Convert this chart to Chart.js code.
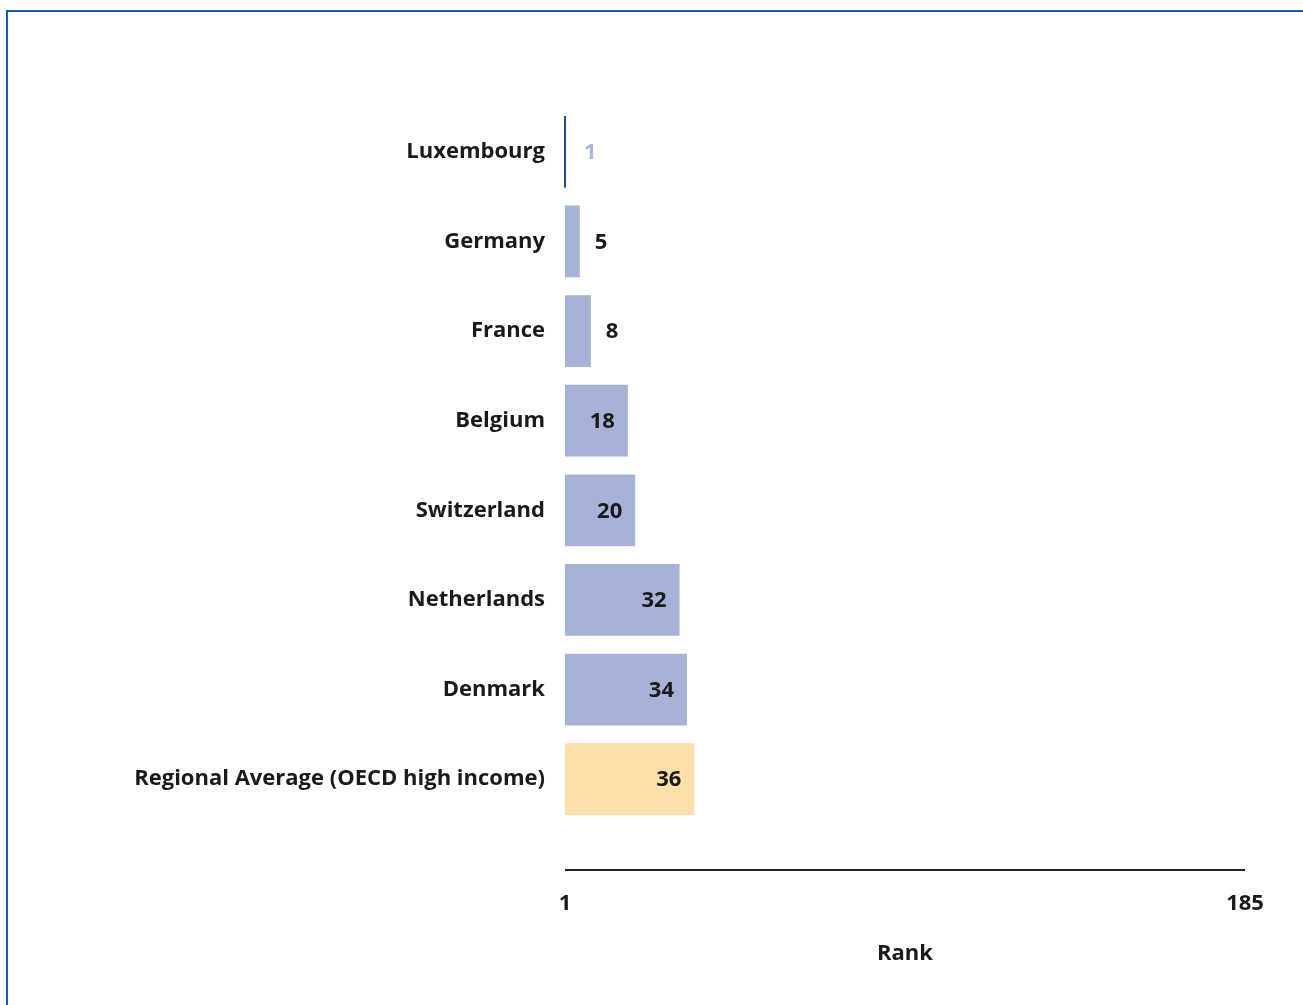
<!DOCTYPE html>
<html>
<head>
<meta charset="utf-8">
<script src="https://cdn.jsdelivr.net/npm/chart.js@4.4.1/dist/chart.umd.min.js"></script>
<style>
    body { margin: 0; background: #fff; overflow: hidden; }
    #wrap { position: relative; width: 1303px; height: 1005px; }
    #frame {
        position: absolute; left: 6px; top: 10px; width: 1400px; height: 1100px;
        border-left: 2px solid #1d5ba4; border-top: 2px solid #1d5ba4;
        pointer-events: none;
    }
</style>
</head>
<body>
<div id="wrap">
    <canvas id="chartCanvas" width="1303" height="1005"></canvas>
    <div id="frame"></div>
</div>
<script>
// Ease of doing business rank (lower is better)
const economies = ['Luxembourg', 'Germany', 'France', 'Belgium', 'Switzerland',
    'Netherlands', 'Denmark', 'Regional Average (OECD high income)'];
const ranks = [1, 5, 8, 18, 20, 32, 34, 36];
const rankTicks = [1, 185];
const axisTitle = 'Rank';
const regionalLabel = 'Regional Average (OECD high income)';

const barColor = '#a6b2d7';
const regionColor = '#fddfaa';
const textColor = '#1a1a1a';
const fontFamily = '"Open Sans", Lato, sans-serif';

// Axis line sits below the last bar, plus the thin line for zero-width bars
const extrasPlugin = {
    id: 'extras',
    afterDatasetsDraw(chart) {
        const ctx = chart.ctx;
        const x = chart.scales.x;
        const meta = chart.getDatasetMeta(0);
        ctx.save();

        // axis line
        ctx.strokeStyle = '#222';
        ctx.lineWidth = 2;
        ctx.beginPath();
        ctx.moveTo(x.left, chart.chartArea.bottom + 46);
        ctx.lineTo(x.right, chart.chartArea.bottom + 46);
        ctx.stroke();

        ctx.font = 'bold 22px ' + fontFamily;
        ctx.textBaseline = 'middle';
        meta.data.forEach((bar, i) => {
            const val = ranks[i];
            const width = bar.x - bar.base;
            const props = bar.getProps(['y', 'height']);
            if (val <= x.min) {
                ctx.strokeStyle = '#1f4e8c';
                ctx.lineWidth = 2;
                ctx.beginPath();
                ctx.moveTo(x.getPixelForValue(val), props.y - props.height / 2);
                ctx.lineTo(x.getPixelForValue(val), props.y + props.height / 2);
                ctx.stroke();
            }
            if (width < 40) {
                ctx.textAlign = 'left';
                ctx.fillStyle = val <= x.min ? '#a9b8dc' : textColor;
                ctx.fillText(String(val), bar.x + (val <= x.min ? 19 : 15), props.y + 1);
            } else {
                ctx.textAlign = 'right';
                ctx.fillStyle = textColor;
                ctx.fillText(String(val), bar.x - 13, props.y + 1);
            }
        });
        ctx.restore();
    }
};

const config = {
    type: 'bar',
    data: {
        labels: economies,
        datasets: [{
            data: ranks,
            backgroundColor: economies.map(e => e === regionalLabel ? regionColor : barColor),
            borderWidth: 0,
            categoryPercentage: 0.8,
            barPercentage: 1
        }]
    },
    options: {
        indexAxis: 'y',
        responsive: false,
        animation: false,
        layout: { padding: { top: 107, right: 58, left: 0, bottom: 0 } },
        plugins: {
            legend: { display: false },
            tooltip: { enabled: false }
        },
        scales: {
            x: {
                min: rankTicks[0],
                max: rankTicks[rankTicks.length - 1],
                afterBuildTicks: scale => {
                    scale.ticks = rankTicks.map(v => ({ value: v }));
                },
                afterFit: scale => {
                    scale.height = 181;
                    scale.paddingLeft = 0;
                    scale.paddingRight = 0;
                },
                grid: { display: false, drawTicks: false },
                border: { display: false },
                ticks: {
                    padding: 67,
                    maxRotation: 0,
                    autoSkip: false,
                    color: textColor,
                    font: { family: fontFamily, size: 22, weight: 'bold' }
                },
                title: {
                    display: true,
                    text: axisTitle,
                    color: textColor,
                    padding: { top: 0, bottom: 38 },
                    font: { family: fontFamily, size: 22, weight: 'bold' }
                }
            },
            y: {
                afterFit: scale => { scale.width = 565; },
                grid: { display: false, drawTicks: false },
                border: { display: false },
                ticks: {
                    padding: 20,
                    color: textColor,
                    font: { family: fontFamily, size: 22, weight: 'bold' }
                }
            }
        }
    },
    plugins: [extrasPlugin]
};

const ctx = document.getElementById('chartCanvas').getContext('2d');
new Chart(ctx, config);
</script>
</body>
</html>
